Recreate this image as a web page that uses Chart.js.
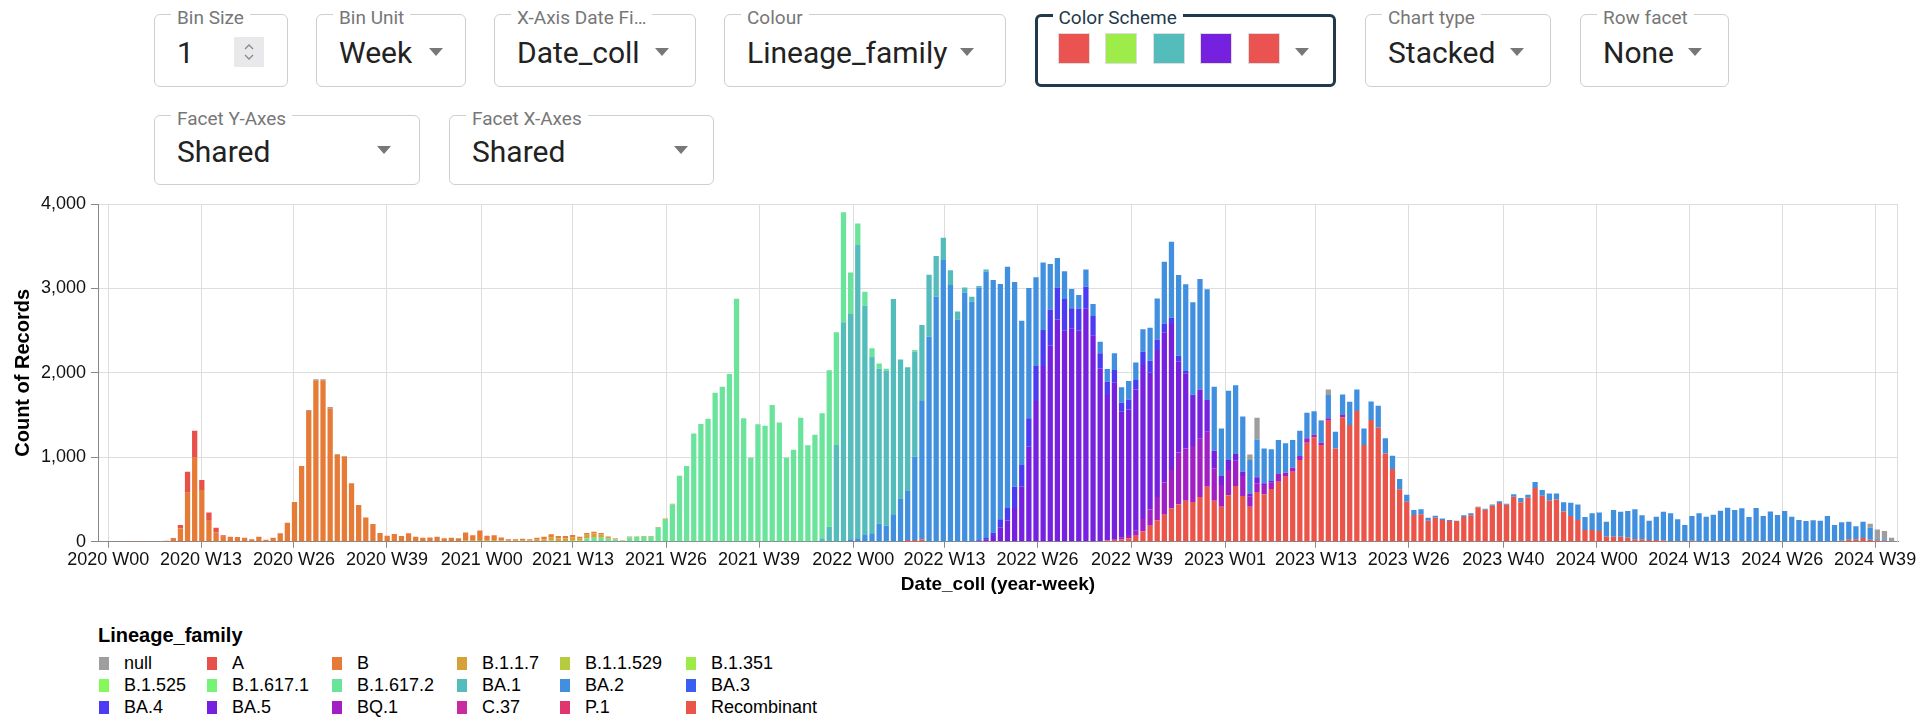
<!DOCTYPE html>
<html>
<head>
<meta charset="utf-8">
<script src="https://cdn.jsdelivr.net/npm/chart.js@4.4.1/dist/chart.umd.min.js"></script>
<style>
  body { margin:0; background:#fff; width:1923px; height:718px; overflow:hidden; position:relative;
         font-family:Roboto, "Liberation Sans", Arial, sans-serif; }
  .box { position:absolute; border:1.5px solid #cfcfcf; border-radius:6px; box-sizing:border-box; }
  .box .lbl { position:absolute; top:-8.5px; left:16px; padding:0 6px; background:#fff; font-size:19px;
              line-height:22px; color:#777; white-space:nowrap; }
  .box .val { position:absolute; left:22px; font-size:30px; line-height:28px; color:#222; white-space:nowrap; }
  .arrow { position:absolute; width:0; height:0; border-left:7px solid transparent;
           border-right:7px solid transparent; border-top:8px solid #777; }
  .scheme { border:3px solid #1e3a4c; }
  .scheme .lbl { color:#1e3a4c; top:-10px; left:14.5px; }
  .sw { position:absolute; width:32px; height:31px; box-sizing:border-box; border:1px solid #ddd; }
  #chartWrap { position:absolute; left:0; top:180px; width:1923px; height:430px; }
  #legend { position:absolute; left:0; top:0; font-family:"Liberation Sans", Arial, sans-serif; }
  .lgTitle { position:absolute; left:98px; top:623px; font-size:20px; line-height:24px; font-weight:bold; color:#000; }
  .lgItem { position:absolute; font-size:18px; line-height:22px; color:#000; white-space:nowrap; }
  .lgItem i { position:absolute; left:0; top:4.5px; width:10px; height:13px; }
  .lgItem span { position:absolute; left:25px; top:0; }
</style>
</head>
<body>

<div id="controls"></div>
<div id="chartWrap"><canvas id="chart" width="1923" height="430"></canvas></div>
<div id="legend"></div>

<script>
// ---------- data ----------
const N = 248; // weekly bins, index 0 = first bar (early Jan 2020)

// x axis ticks, positions in bin units
const tickPos = [-3.11, 9.89, 22.93, 35.97, 49.26, 62.06, 75.11, 88.15, 101.37, 114.18,
                 127.21, 140.46, 153.51, 166.27, 179.28, 192.55, 205.64, 218.62, 231.67, 244.69];
const tickLabels = ['2020 W00','2020 W13','2020 W26','2020 W39','2021 W00','2021 W13','2021 W26','2021 W39',
                    '2022 W00','2022 W13','2022 W26','2022 W39','2023 W01','2023 W13','2023 W26','2023 W40',
                    '2024 W00','2024 W13','2024 W26','2024 W39'];

const lineages = ['null','A','B','B.1.1.7','B.1.1.529','B.1.351','B.1.525','B.1.617.1','B.1.617.2',
                  'BA.1','BA.2','BA.3','BA.4','BA.5','BQ.1','C.37','P.1','Recombinant'];
const lineageColors = ['#9e9e9e','#e8504a','#e57b37','#d4a236','#b6cc3c','#9deb48','#86f95a','#76f277','#6ae39b',
                       '#55bcbc','#4190e0','#3a5ef0','#4b3cf3','#7620e0','#a020c4','#c82ca0','#e0366f','#eb5449'];

// place runs of weekly counts at their starting bin
function seg(...parts) {
  const a = new Array(N).fill(0);
  parts.forEach(([start, vals]) => vals.forEach((v, i) => { a[start + i] = v; }));
  return a;
}

const nullCounts = seg([25, [10,10,12,15,5,5]], [157, [67,257]], [167, [10,67]], [244, [47,114,99,47]]);
const aCounts = seg([7, [40,249,320,118,90,56,16]]);
const bCounts = seg([0, [8,8,6,0,5,10,45,157,580,995,612,257,110,59,59,55,47,28,59,24,
                         47,99,225,470,896,1549,1913,1913,1580,1033,1010,691,434,288,209,103,71,91,67,99,
                         59,47,51,59,40,47,40,100,65,115,55,55,35,18,16,20,14,25,30,35,
                         30,30,30,20,20,20,15,8,5]]);
const b117Counts = seg([47, [10,10,19,16,20,16,10,12,16,14,22,29,40,30,30,37,27,45,50,40,
                             20,10,6,10,8,8,8,8,15,8]]);
const b11529Counts = seg();
const b1351Counts = seg([59, [12,7,7,12,12]]);
const b1525Counts = seg();
const b16171Counts = seg();
const b16172Counts = seg([64, [38,48,48,35,25,10,53,55,59,59,166,261,442,782,896,1283,1394,1457,1765,1836,
                               1986,2878,1461,995,1390,1374,1619,1413,995,1090,1469,1141,1267,1480,1852,1335,1303,494,249,162,
                               99,63,24,0,0,0,20]]);
const ba1Counts = seg([97, [40,178,1145,2598,2668,3481,2720,2092,1832,1835,2550,1654,1465,1243,900,734,481,264,174,95,
                            59,59,16,24]]);
const ba2Counts = seg([101, [28,40,79,99,217,190,324,505,580,987,
                             1636,2428,2902,3336,3040,2633,2953,2843,2992,3157,
                             2991,2787,2857,2425,1709,1543,1051,801,538,348,
                             328,228,158,205,142,138,150,198,181,218,
                             209,265,391,486,730,900,955,1027,1090,1307,
                             1311,758,564,821,814,655,395,450,414,376,
                             403,348,328,300,304,277,256,276,198,245,
                             276,256,197,221,257,178,158,122,83,59,
                             59,35,24,19,12,4,20,24,8,12,
                             16,20,12,28,51,36,71,67,86,71,
                             107,158,185,154,198,221,178,316,296,316,
                             355,284,229,276,339,328,257,189,292,328,
                             292,312,359,395,367,387,286,391,298,351,
                             310,357,290,251,239,247,243,298,191,217,
                             209,154,194,142,14,18]]);
const ba3Counts = seg();
const ba4Counts = seg([119, [8,16,40,99,150,250,257,336,414,426,430,379,375,237,264,260,229,178,158,150,
                             107,118,111,158,142,126,111,75,71,27,20]]);
const ba5Counts = seg([119, [12,20,60,158,250,400,651,1125,1666,2081,2321,2633,2499,2527,2499,2760,2444,2045,1717,1853,
                             1492,1487,1674,1822,1622,1740,1775,1728,1074,889,592,584,375,209,107,118,79,51,39,71,
                             20,20]]);
const bq1Counts = seg([137, [5,10,20,40,60,150,190,280,380,455,616,619,663,691,652,383,256,300,300,237,
                             118,103,110,74,90,47,47,48,51,31,28,28,0,27]]);
const c37Counts = seg();
const p1Counts = seg();
const recombCounts = seg([109, [20,20,30]], [120, [8,8,8]],
                         [136, [8,15,20,28,40,70,120,190,250,320,395,442,486,470,529,651,486,415,549,659,
                                541,415,588,561,624,711,770,829,967,1173,1236,1145,1433,1105,1473,1382,1548,1145,1441,1354,
                                1046,861,620,474,316,324,249,284,257,245,245,292,312,407,379,426,458,438,533,466,
                                521,636,545,486,501,359,304,257,138,138,126,59,59,59,47,28,28,20,20,16,
                                8,8,8,12,8,4,8,8,8,8,8,6,8,6,8,6,6,6,6,6,
                                6,6,6,6,12,28,28,43,24,16,10]]);

const countsByLineage = [nullCounts, aCounts, bCounts, b117Counts, b11529Counts, b1351Counts, b1525Counts,
                         b16171Counts, b16172Counts, ba1Counts, ba2Counts, ba3Counts, ba4Counts, ba5Counts,
                         bq1Counts, c37Counts, p1Counts, recombCounts];

// ---------- controls ----------
const controls = [
  { label:'Bin Size', left:154, top:14, w:134, h:73, value:'1', valTop:24, spinner:true },
  { label:'Bin Unit', left:316, top:14, w:150, h:73, value:'Week', valTop:24, arrow:429 },
  { label:'X-Axis Date Fi\u2026', left:494, top:14, w:202, h:73, value:'Date_coll', valTop:24, arrow:655 },
  { label:'Colour', left:724, top:14, w:282, h:73, value:'Lineage_family', valTop:24, arrow:960 },
  { label:'Color Scheme', left:1035, top:14, w:301, h:73, scheme:true, arrow:1295 },
  { label:'Chart type', left:1365, top:14, w:186, h:73, value:'Stacked', valTop:24, arrow:1510 },
  { label:'Row facet', left:1580, top:14, w:149, h:73, value:'None', valTop:24, arrow:1688 },
  { label:'Facet Y-Axes', left:154, top:115, w:266, h:70, value:'Shared', valTop:22, arrow:377 },
  { label:'Facet X-Axes', left:449, top:115, w:265, h:70, value:'Shared', valTop:22, arrow:674 }
];
const schemeColors = ['#ea5350','#9dec4a','#55bcbc','#7620e0','#ea5350'];

const ctl = document.getElementById('controls');
controls.forEach(c => {
  const d = document.createElement('div');
  d.className = 'box' + (c.scheme ? ' scheme' : '');
  d.style.cssText = `left:${c.left}px;top:${c.top}px;width:${c.w}px;height:${c.h}px;`;
  const bw = c.scheme ? 3 : 1.5;
  let html = `<div class="lbl">${c.label}</div>`;
  if (c.value) html += `<div class="val" style="top:${c.valTop}px">${c.value}</div>`;
  if (c.scheme) {
    schemeColors.forEach((col, i) => {
      html += `<div class="sw" style="left:${20 + i * 47.4}px;top:16px;background:${col}"></div>`;
    });
  }
  if (c.spinner) {
    html += `<svg style="position:absolute;left:79px;top:21.5px" width="30" height="30">
      <rect width="30" height="30" fill="#e9e9ec"/>
      <polyline points="11,12 15,8 19,12" fill="none" stroke="#888" stroke-width="1.3"/>
      <polyline points="11,18 15,22 19,18" fill="none" stroke="#888" stroke-width="1.3"/></svg>`;
  }
  if (c.arrow) {
    // arrow top in page coordinates: 48 on the first row, 146 on the second
    const arrowTop = c.top < 100 ? 48 : 146;
    html += `<div class="arrow" style="left:${c.arrow - c.left - bw}px;top:${arrowTop - c.top - bw}px"></div>`;
  }
  d.innerHTML = html;
  ctl.appendChild(d);
});

// ---------- legend ----------
const lg = document.getElementById('legend');
const colLeft = [99, 207, 332, 457, 560, 686];
const rowTop = [652, 674, 696];
let lgHtml = '<div class="lgTitle">Lineage_family</div>';
lineages.forEach((name, i) => {
  const r = Math.floor(i / 6), c = i % 6;
  lgHtml += `<div class="lgItem" style="left:${colLeft[c]}px;top:${rowTop[r]}px">` +
            `<i style="background:${lineageColors[i]}"></i><span>${name}</span></div>`;
});
lg.innerHTML = lgHtml;

// ---------- chart ----------
const frame = {
  id: 'frame',
  beforeDatasetsDraw(c) {
    const { ctx, chartArea: a } = c;
    ctx.save();
    ctx.strokeStyle = '#dddddd';
    ctx.lineWidth = 1;
    ctx.beginPath();
    ctx.moveTo(a.right - 0.5, a.top);
    ctx.lineTo(a.right - 0.5, a.bottom);
    ctx.stroke();
    ctx.restore();
  }
};

// stack order: last legend entry at the bottom
const datasets = lineages.map((name, i) => ({
  label: name,
  data: countsByLineage[i],
  backgroundColor: lineageColors[i],
  borderWidth: 0,
  barPercentage: 0.74,
  categoryPercentage: 1
})).reverse();

const axisFont = { family: '"Liberation Sans", Arial, sans-serif', size: 18 };

new Chart(document.getElementById('chart'), {
  type: 'bar',
  data: { labels: Array.from({ length: N }, (_, i) => i), datasets },
  options: {
    responsive: false,
    animation: false,
    layout: { padding: { left: 0, right: 25, top: 24, bottom: 0 } },
    plugins: { legend: { display: false }, tooltip: { enabled: false } },
    scales: {
      x: {
        type: 'linear',
        stacked: true,
        offset: false,
        min: -4.56,
        max: 247.9,
        afterBuildTicks: s => { s.ticks = tickPos.map(v => ({ value: v })); },
        afterFit: s => { s.height = 68.3; },
        ticks: {
          autoSkip: false, maxRotation: 0, minRotation: 0, padding: 2,
          color: '#111', font: axisFont,
          callback: (v, i) => tickLabels[i]
        },
        grid: { offset: false, color: '#dddddd', tickColor: '#888', tickLength: 6, lineWidth: 1 },
        border: { color: '#888', width: 1 },
        title: {
          display: true, text: 'Date_coll (year-week)', color: '#000',
          font: { family: '"Liberation Sans", Arial, sans-serif', size: 19, weight: 'bold' },
          padding: { top: 0, bottom: 14 }
        }
      },
      y: {
        stacked: true,
        min: 0, max: 4000,
        afterFit: s => { s.width = 98; },
        ticks: {
          stepSize: 1000, padding: 5, color: '#111', font: axisFont,
          callback: v => v.toLocaleString('en-US')
        },
        grid: { color: '#dddddd', tickColor: '#888', tickLength: 7, lineWidth: 1 },
        border: { color: '#888', width: 1 },
        title: {
          display: true, text: 'Count of Records', color: '#000',
          font: { family: '"Liberation Sans", Arial, sans-serif', size: 20, weight: 'bold' },
          padding: { top: 11, bottom: 0 }
        }
      }
    }
  },
  plugins: [frame]
});
</script>
</body>
</html>
